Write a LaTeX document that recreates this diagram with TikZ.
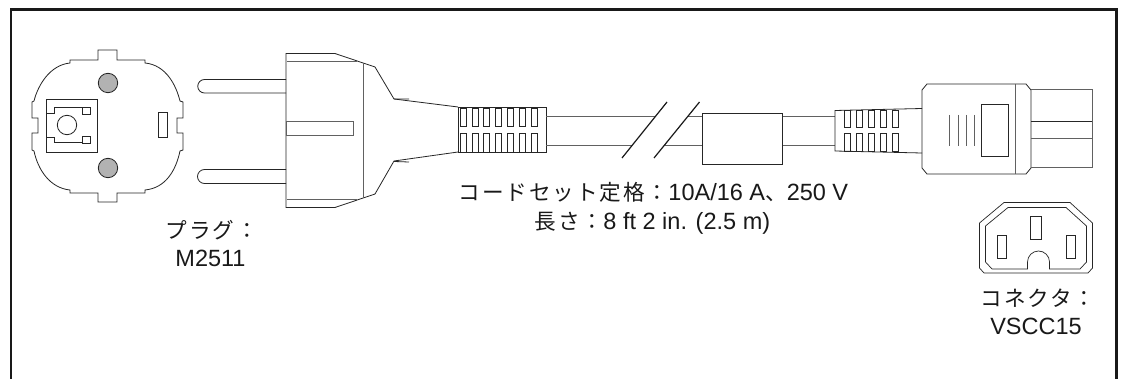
\documentclass[tikz,border=0pt]{standalone}
\usepackage{fontspec}
\setmainfont{Liberation Sans}
\newfontfamily\jpfont{Noto Sans CJK JP}[Scale=0.92,LetterSpace=8.7]
\tikzset{
 ln/.style={line width=0.8pt,draw=black!85,line join=miter},
 gln/.style={line width=1pt,draw=black!62},
 lbl/.style={inner sep=0pt,font=\fontsize{23.5}{27}\selectfont,text=black!90,anchor=center},
}
\begin{document}
\begin{tikzpicture}[x=1pt,y=-1pt]
\useasboundingbox (0,0) rectangle (1121,379);
\fill[white] (0,0) rectangle (1121,379);
\draw[line width=2.2pt,black!90] (11,379) -- (11,9.5) -- (1116.5,9.5) -- (1116.5,379);
% plug face
\draw[ln] (70,63) -- (70,60) -- (98,60) -- (98,50) -- (117,50) -- (117,60) -- (145,60) -- (145,63)
  .. controls (166,65) and (176,85) .. (180,101) -- (183,102) -- (183,118) -- (177,118) -- (177,133) -- (183,133) -- (183,150) -- (180,151)
  .. controls (176,170) and (166,188) .. (145,190) -- (145,193) -- (117,193) -- (117,202) -- (98,202) -- (98,193) -- (70,193) -- (70,190)
  .. controls (50,188) and (38,170) .. (34,151) -- (32,150) -- (32,133) -- (38,133) -- (38,118) -- (32,118) -- (32,102) -- (34,101)
  .. controls (38,85) and (50,65) .. (70,63) -- cycle;
\draw[ln] (46,99.5) rectangle (97,152);
\draw[ln] (47,113) -- (54,113) -- (54,107) -- (82,107);
\draw[ln] (82,107) rectangle (90,114);
\draw[ln] (47,137) -- (54,137) -- (54,142.5) -- (82,142.5);
\draw[ln] (82,136.5) rectangle (90,143);
\draw[ln] (67,125) circle (9.7);
\draw[ln,fill=black!30] (108,83) circle (9.7);
\draw[ln,fill=black!30] (108,168) circle (9.7);
\draw[ln] (158,112.5) rectangle (167.5,137.5);
% pins
\draw[ln] (286,79.5) -- (204.5,79.5) arc[start angle=270,end angle=90,radius=6.75] -- (286,93);
\draw[ln] (286,169.5) -- (204.5,169.5) arc[start angle=270,end angle=90,radius=7] -- (286,183.5);
% plug body
\draw[ln] (458,107) -- (394,99) -- (375,67) -- (335,53.5) -- (286,53.5) -- (286,207.5) -- (335,207.5) -- (375,194) -- (394,161) -- (458,152);
\draw[ln] (394,99) -- (409,99) (394,161.5) -- (409,162);
\draw[gln] (287,62) -- (357,62) (287,199.5) -- (357,199.5);
\draw[gln] (363,63) -- (363,198);
\draw[gln] (286,122) rectangle (353,136);
% left grip
\draw[ln] (458,107.5) rectangle (546,152);
\foreach \sx in {460,472,483.5,495,507.5,519.5,531.5}{
 \draw[ln] (\sx,108) rectangle ++(6,18);
 \draw[ln] (\sx,133) rectangle ++(6,19);
}
% cord
\draw[gln] (546,117) -- (655,117) (546,146) -- (632,146);
\draw[gln] (687,117) -- (702,117) (664,146) -- (702,146);
\draw[gln] (782,117) -- (835,117) (782,146) -- (835,146);
\draw[line width=1.2pt,black!90] (622,158) -- (667,102);
\draw[line width=1.2pt,black!90] (654,158) -- (699.5,102);
\draw[ln] (702,113) rectangle (782,164);
% right grip
\draw[ln] (922,108.5) -- (835,110.5) -- (835,151) -- (922,153);
\foreach \sx in {844.5,856.5,868.5,880.5,892.5}{
 \draw[ln] (\sx,110.5) rectangle ++(6,17);
 \draw[ln] (\sx,133.5) rectangle ++(6,17.5);
}
% connector
\draw[ln] (927,84) -- (1026,84) -- (1031,90) -- (1031,168) -- (1026,174) -- (927,174) -- (922,168) -- (922,90) -- cycle;
\draw[gln] (1015,84) -- (1015,174);
\draw[ln] (981,104.5) rectangle (1008.5,156.5);
\foreach \tx in {949.5,958,966,974.5}{\draw[gln] (\tx,115) -- (\tx,146);}
\draw[gln] (1031,90) -- (1092,90) -- (1092,168) -- (1031,168);
\draw[ln] (1031,121.5) -- (1092,121.5);
\draw[gln] (1031,139) -- (1092,139);
% inlet
\draw[line width=0.7pt,black!85] (1004,202.5) -- (1070,202.5) -- (1092.5,223) -- (1092.5,268) -- (1088,273) -- (984,273) -- (979.5,268) -- (979.5,223) -- cycle;
\draw[line width=0.7pt,black!85] (1008,207.5) -- (1066,207.5) -- (1086.5,226) -- (1086.5,262) -- (1080,269) -- (1049.5,269) -- (1049.5,262) arc[start angle=0,end angle=-180,radius=11] -- (1027.5,269) -- (992,269) -- (985.5,262) -- (985.5,226) -- cycle;
\draw[line width=0.7pt,black!85] (1030.5,216) rectangle (1041,239);
\draw[line width=0.7pt,black!85] (997,235) rectangle (1006,258);
\draw[line width=0.7pt,black!85] (1066,235) rectangle (1075,258);
% text
\node[lbl] (t1) at (212,230) {\jpfont プラグ：};
\node[lbl] (t2) at (210.5,258) {M2511};
\node[lbl] (t3) at (653.5,192) {{\jpfont コードセット定格：}10A/16 A{\jpfont 、}250 V};
\node[lbl] (t4) at (652.5,223) {{\jpfont 長さ：}8 ft 2 in. (2.5 m)};
\node[lbl] (t5) at (1038,298) {\jpfont コネクタ：};
\node[lbl] (t6) at (1036,326) {VSCC15};
\end{tikzpicture}
\end{document}
